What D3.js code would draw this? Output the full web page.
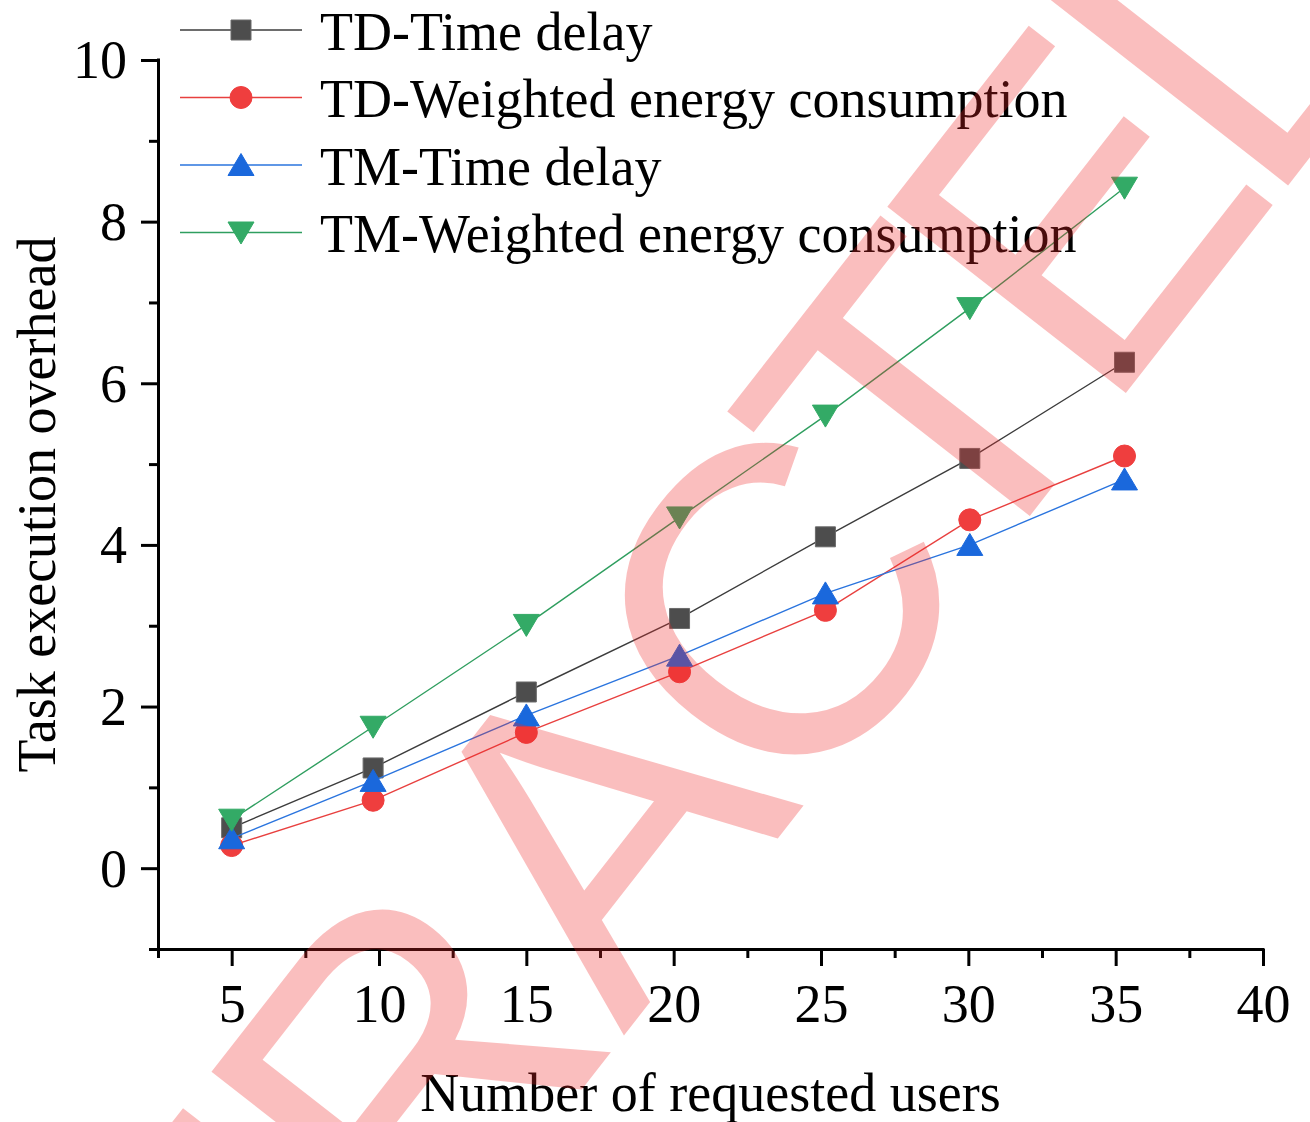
<!DOCTYPE html>
<html>
<head>
<meta charset="utf-8">
<script src="https://cdn.jsdelivr.net/npm/d3@7/dist/d3.min.js"></script>
<style>
  html, body { margin: 0; padding: 0; background: #ffffff; }
  svg { display: block; }
</style>
</head>
<body>
<script>
// ---------------- data ----------------
const users = [5, 9.8, 15, 20.2, 25.15, 30.05, 35.3];
const tdTimeDelay = [0.50, 1.24, 2.18, 3.09, 4.10, 5.07, 6.26];
const tdWeightedEnergy = [0.28, 0.84, 1.68, 2.43, 3.19, 4.31, 5.10];
const tmTimeDelay = [0.37, 1.08, 1.89, 2.63, 3.40, 4.00, 4.81];
const tmWeightedEnergy = [0.60, 1.75, 3.01, 4.34, 5.60, 6.93, 8.42];
const seriesNames = ["TD-Time delay", "TD-Weighted energy consumption", "TM-Time delay", "TM-Weighted energy consumption"];
const xTickValues = [5, 10, 15, 20, 25, 30, 35, 40];
const xMinorValues = [2.5, 7.5, 12.5, 17.5, 22.5, 27.5, 32.5, 37.5];
const yTickValues = [0, 2, 4, 6, 8, 10];
const yMinorValues = [-1, 1, 3, 5, 7, 9];
const xTitle = "Number of requested users";
const yTitle = "Task execution overhead";
const watermarkParts = ["RETRA", "C", "T", "E", "D"];

// ---------------- styles ----------------
const styles = [
  { line: "#3c3c3c", fill: "#4d4d4d", stroke: "#6a6a6a", shape: "square" },
  { line: "#e8403f", fill: "#ef3e3e", stroke: "#ef3e3e", shape: "circle" },
  { line: "#2a74de", fill: "#1a68dc", stroke: "#1a68dc", shape: "triangle" },
  { line: "#2f9e5f", fill: "#33aa66", stroke: "#33aa66", shape: "down" }
];
const seriesValues = [tdTimeDelay, tdWeightedEnergy, tmTimeDelay, tmWeightedEnergy];

const W = 1310, H = 1122;
const svg = d3.select("body").append("svg").attr("width", W).attr("height", H)
  .style("font-family", "'Liberation Serif', 'Times New Roman', serif");

const x = d3.scaleLinear().domain([2.5, 40]).range([158, 1263]);
const y = d3.scaleLinear().domain([-1, 10]).range([949, 60]);

function shapePath(shape) {
  if (shape === "square") return "M-10,-10H10V10H-10Z";
  if (shape === "circle") return "M-11,0A11,11 0 1,0 11,0A11,11 0 1,0 -11,0Z";
  if (shape === "triangle") return "M0,-11.5L13,10.5L-13,10.5Z";
  return "M0,11.5L13,-10.5L-13,-10.5Z";
}

// ---------------- axes ----------------
const axisW = 3;
const gx = svg.append("g").attr("transform", `translate(0,${y(-1)})`)
  .call(d3.axisBottom(x).tickValues(xTickValues).tickSize(17).tickSizeOuter(0).tickPadding(18));
const gxm = svg.append("g").attr("transform", `translate(0,${y(-1)})`)
  .call(d3.axisBottom(x).tickValues(xMinorValues).tickSize(9).tickFormat(""));
gxm.select(".domain").remove();

const gy = svg.append("g").attr("transform", `translate(${x(2.5)},0)`)
  .call(d3.axisLeft(y).tickValues(yTickValues).tickSize(17).tickSizeOuter(0).tickPadding(14));
const gym = svg.append("g").attr("transform", `translate(${x(2.5)},0)`)
  .call(d3.axisLeft(y).tickValues(yMinorValues).tickSize(9).tickFormat(""));
gym.select(".domain").remove();

[gx, gxm, gy, gym].forEach(g => {
  g.selectAll("path, line").attr("stroke", "#000").attr("stroke-width", axisW);
  g.selectAll("text").attr("fill", "#000").style("font-family", "'Liberation Serif', 'Times New Roman', serif")
    .attr("font-size", 54);
});
gx.select(".domain").attr("d", `M${x(2.5) - 1.5},0.5H${x(40) + 1.5}`);
gy.select(".domain").attr("d", `M0.5,${y(-1) + 1.5}V${y(10) - 1.5}`);
gx.selectAll("text").attr("dy", "0.71em");
gy.selectAll("text").attr("dy", "0.33em");

// axis titles
svg.append("text").attr("x", (x(2.5) + x(40)) / 2).attr("y", 1111)
  .attr("text-anchor", "middle").attr("font-size", 54).attr("fill", "#000").text(xTitle);
svg.append("text").attr("transform", `translate(55,${(y(-1) + y(10)) / 2}) rotate(-90)`)
  .attr("text-anchor", "middle").attr("font-size", 54).attr("fill", "#000").text(yTitle);

// ---------------- series ----------------
const line = d3.line().x(d => x(d[0])).y(d => y(d[1]));
seriesValues.forEach((vals, i) => {
  const pts = users.map((u, k) => [u, vals[k]]);
  const g = svg.append("g");
  g.append("path").attr("d", line(pts)).attr("fill", "none")
    .attr("stroke", styles[i].line).attr("stroke-width", 1.4);
  g.selectAll("path.m").data(pts).enter().append("path").attr("class", "m")
    .attr("d", shapePath(styles[i].shape))
    .attr("transform", d => `translate(${x(d[0])},${y(d[1])})`)
    .attr("fill", styles[i].fill).attr("stroke", styles[i].stroke).attr("stroke-width", 1);
});

// ---------------- legend ----------------
const legRowY = [30, 97.5, 165, 232.5];
seriesNames.forEach((name, i) => {
  const g = svg.append("g").attr("transform", `translate(0,${legRowY[i]})`);
  g.append("line").attr("x1", 180).attr("x2", 302).attr("y1", 0).attr("y2", 0)
    .attr("stroke", styles[i].line).attr("stroke-width", 1.4);
  g.append("path").attr("d", shapePath(styles[i].shape)).attr("transform", "translate(241,0)")
    .attr("fill", styles[i].fill).attr("stroke", styles[i].stroke).attr("stroke-width", 1);
  g.append("text").attr("x", 320).attr("y", 19.5).attr("font-size", 54).attr("fill", "#000").text(name);
});

// ---------------- watermark ----------------
const wm = svg.append("text")
  .attr("transform", "translate(-114,1980) rotate(-52)")
  .attr("text-anchor", "start")
  .style("font-family", "'Liberation Sans', Arial, sans-serif")
  .attr("font-size", 440)
  .attr("fill", "rgb(240,40,40)")
  .attr("fill-opacity", 0.3)
  .attr("pointer-events", "none");
const wmShift = [0, -20, -45, -35, -30];
const wmLift = [0, 8, -8, 0, 0];
watermarkParts.forEach((p, i) => wm.append("tspan").attr("dx", wmShift[i]).attr("dy", wmLift[i]).text(p));
</script>
</body>
</html>
